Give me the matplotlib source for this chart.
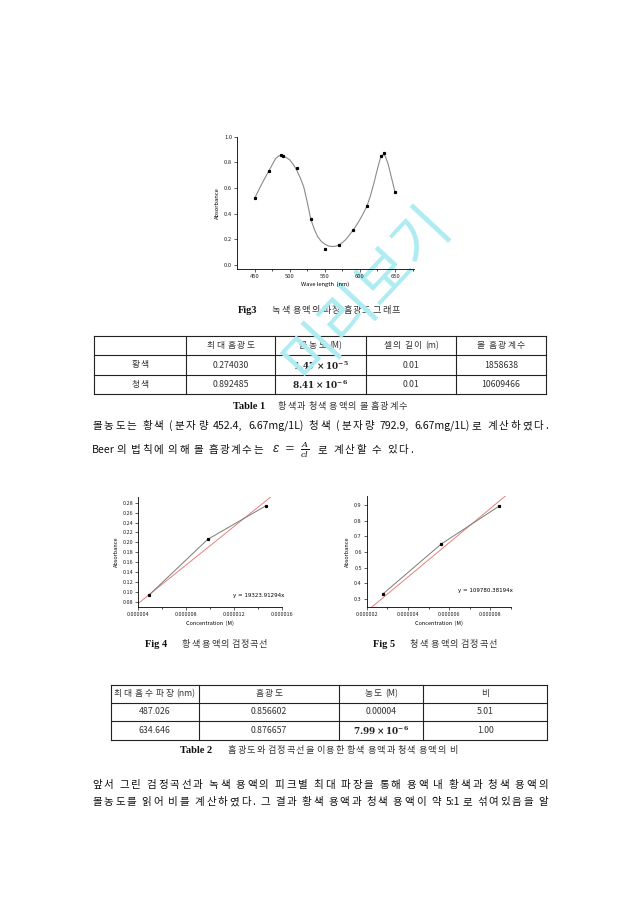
import matplotlib
matplotlib.use('Agg')
import matplotlib.pyplot as plt
import numpy as np

plt.rcParams['font.family'] = ['Noto Sans CJK KR', 'DejaVu Sans']
plt.rcParams['mathtext.fontset'] = 'dejavuserif'

# ---------------- data ----------------
# Fig3: spectrum of green solution
wave_nm = [450, 470, 487.026, 490, 510, 530, 550, 570, 590, 610, 630, 634.646, 650]
wave_abs = [0.52, 0.73, 0.856602, 0.85, 0.76, 0.357, 0.122, 0.154, 0.27, 0.46, 0.85, 0.876657, 0.567]
# smooth curve
curve_nm = [450, 455, 460, 465, 470, 475, 480, 485, 490, 495, 500, 505, 510, 515, 520, 525,
            530, 535, 540, 545, 550, 555, 560, 565, 570, 575, 580, 585, 590, 595, 600, 605,
            610, 615, 620, 625, 630, 633, 636, 640, 645, 650]
curve_abs = [0.52, 0.575, 0.63, 0.68, 0.73, 0.78, 0.83, 0.853, 0.85, 0.838, 0.82, 0.785, 0.74, 0.68,
             0.61, 0.49, 0.36, 0.28, 0.22, 0.185, 0.164, 0.15, 0.145, 0.147, 0.155, 0.175, 0.20,
             0.235, 0.27, 0.31, 0.355, 0.405, 0.46, 0.54, 0.64, 0.75, 0.85, 0.86, 0.85, 0.79, 0.68, 0.567]
fig3_xticks = [450, 500, 550, 600, 650]
fig3_yticks = [0.0, 0.2, 0.4, 0.6, 0.8, 1.0]

# Fig4: yellow calibration
y_conc = [4.9e-6, 9.8e-6, 1.47e-5]
y_abs = [0.094, 0.206, 0.274]
y_slope = 19323.91294
fig4_xticks = [4e-6, 8e-6, 1.2e-5, 1.6e-5]
fig4_xlabels = ['0.000004', '0.000008', '0.000012', '0.000016']
fig4_yticks = [0.08, 0.10, 0.12, 0.14, 0.16, 0.18, 0.20, 0.22, 0.24, 0.26, 0.28]

# Fig5: blue calibration
b_conc = [2.8e-6, 5.61e-6, 8.41e-6]
b_abs = [0.332, 0.65, 0.892]
b_slope = 109780.38194
fig5_xticks = [2e-6, 4e-6, 6e-6, 8e-6]
fig5_xlabels = ['0.000002', '0.000004', '0.000006', '0.000008']
fig5_yticks = [0.3, 0.4, 0.5, 0.6, 0.7, 0.8, 0.9]

# Tables
t1_header = ['', '최대 흡광도', '몰농도 (M)', '셀의 길이 (m)', '몰 흡광계수']
t1_rows = [['황색', '0.274030', r'$\mathbf{1.47\times10^{-5}}$', '0.01', '1858638'],
           ['청색', '0.892485', r'$\mathbf{8.41\times10^{-6}}$', '0.01', '10609466']]
t2_header = ['최대 흡수 파장 (nm)', '흡광도', '농도 (M)', '비']
t2_rows = [['487.026', '0.856602', '0.00004', '5.01'],
           ['634.646', '0.876657', r'$\mathbf{7.99\times10^{-6}}$', '1.00']]

# ---------------- figure ----------------
W, H = 640, 905
fig = plt.figure(figsize=(W / 100, H / 100), dpi=100)
fig.patch.set_facecolor('white')
page = fig.add_axes([0, 0, 1, 1])
page.set_xlim(0, W)
page.set_ylim(H, 0)
page.axis('off')
renderer = fig.canvas.get_renderer()


def px_axes(x0, x1, y0, y1):
    return fig.add_axes([x0 / W, 1 - y1 / H, (x1 - x0) / W, (y1 - y0) / H])


def style_axes(ax, fs=4.2):
    for s in ['top', 'right']:
        ax.spines[s].set_visible(False)
    for s in ['left', 'bottom']:
        ax.spines[s].set_linewidth(0.6)
    ax.tick_params(direction='out', length=2, width=0.5, labelsize=fs, pad=1.5, colors='#222222')
    ax.tick_params(which='minor', direction='out', length=1.5, width=0.5)
    ax.patch.set_alpha(0)


def is_hangul(ch):
    return '\uac00' <= ch <= '\ud7a3'


def tokenize(text):
    toks = []
    cur = ''
    for ch in text:
        if ch == ' ':
            if cur:
                toks.append(cur)
                cur = ''
            toks.append(' ')
        elif is_hangul(ch):
            if cur:
                toks.append(cur)
                cur = ''
            toks.append(ch)
        else:
            cur += ch
    if cur:
        toks.append(cur)
    return toks


def make_tokens(text, y, **kw):
    toks = tokenize(text)
    items = []
    for t in toks:
        if t == ' ':
            items.append((None, 0.0))
        else:
            o = page.text(0, y, t, ha='left', va='baseline', **kw)
            items.append((o, o.get_window_extent(renderer=renderer).width))
    return items


def place(items, x0, gap, space_units):
    x = x0
    prev = None
    for o, w in items:
        if o is None:
            x += gap * space_units
            prev = None
            continue
        if prev is not None:
            x += gap
        o.set_x(x)
        x += w
        prev = o


def count(items):
    n_obj = sum(1 for o, _ in items if o is not None)
    n_sp = sum(1 for o, _ in items if o is None)
    adj = 0
    for i in range(1, len(items)):
        if items[i][0] is not None and items[i - 1][0] is not None:
            adj += 1
    return n_obj, n_sp, adj


def spread(text, x0, x1, y, space_units=3.0, **kw):
    items = make_tokens(text, y, **kw)
    n_obj, n_sp, adj = count(items)
    total = sum(w for _, w in items)
    gap = (x1 - x0 - total) / max(adj + space_units * n_sp, 1)
    place(items, x0, gap, space_units)


def spaced_center(text, xc, y, gap=1.5, space_units=3.0, **kw):
    items = make_tokens(text, y, **kw)
    n_obj, n_sp, adj = count(items)
    total = sum(w for _, w in items) + gap * (adj + space_units * n_sp)
    place(items, xc - total / 2, gap, space_units)


# ---- Fig3 ----
ax3 = px_axes(237, 414, 136.7, 269)
ax3.plot(curve_nm, curve_abs, color='#8a8a8a', lw=0.8)
ax3.plot(wave_nm, wave_abs, ls='none', marker='s', ms=1.3, color='black')
ax3.set_xlim(425, 677)
ax3.set_ylim(-0.03, 1.0)
ax3.set_xticks(fig3_xticks)
ax3.set_xticks([475, 525, 575, 625, 675], minor=True)
ax3.set_yticks(fig3_yticks)
ax3.set_yticklabels([f'{v:.1f}' for v in fig3_yticks])
style_axes(ax3)
ax3.set_xlabel('Wave length  (nm)', fontsize=4.2, labelpad=2)
ax3.set_ylabel('Absorbance', fontsize=4.2, labelpad=3)

# ---- Fig4 ----
ax4 = px_axes(138.3, 281.7, 496.7, 606.7)
xl = np.array([4e-6, 1.6e-5])
ax4.plot(xl, y_slope * xl, color='#e8807a', lw=0.7)
ax4.plot(y_conc, y_abs, color='#7a7a7a', lw=0.7, marker='s', ms=1.3, mfc='black', mec='black')
ax4.set_xlim(4e-6, 1.6e-5)
ax4.set_ylim(0.0706, 0.292)
ax4.set_xticks(fig4_xticks)
ax4.set_xticklabels(fig4_xlabels)
ax4.set_xticks([6e-6, 1e-5, 1.4e-5], minor=True)
ax4.set_yticks(fig4_yticks)
ax4.set_yticklabels([f'{v:.2f}' for v in fig4_yticks])
style_axes(ax4, 4.0)
ax4.set_xlabel('Concentration  (M)', fontsize=4.0, labelpad=3)
ax4.set_ylabel('Absorbance', fontsize=4.0, labelpad=3)
ax4.text(0.66, 0.10, 'y = 19323.91294x', transform=ax4.transAxes, fontsize=4.0,
         family='DejaVu Sans', va='center')

# ---- Fig5 ----
ax5 = px_axes(366.7, 511, 496, 606.7)
xl5 = np.array([2e-6, 9e-6])
ax5.plot(xl5, b_slope * xl5, color='#e8807a', lw=0.7)
ax5.plot(b_conc, b_abs, color='#7a7a7a', lw=0.7, marker='s', ms=1.3, mfc='black', mec='black')
ax5.set_xlim(2e-6, 9e-6)
ax5.set_ylim(0.249, 0.958)
ax5.set_xticks(fig5_xticks)
ax5.set_xticklabels(fig5_xlabels)
ax5.set_xticks([3e-6, 5e-6, 7e-6, 9e-6], minor=True)
ax5.set_yticks(fig5_yticks)
ax5.set_yticklabels([f'{v:.1f}' for v in fig5_yticks])
style_axes(ax5, 4.0)
ax5.set_xlabel('Concentration  (M)', fontsize=4.0, labelpad=3)
ax5.set_ylabel('Absorbance', fontsize=4.0, labelpad=3)
ax5.text(0.63, 0.15, 'y = 109780.38194x', transform=ax5.transAxes, fontsize=4.0,
         family='DejaVu Sans', va='center')

# ---- captions ----
cap_kw = dict(fontsize=6.6, color='#333333')
serif_b = dict(family='Liberation Serif', weight='bold', fontsize=7.5, color='#111111')
page.text(238, 313, 'Fig3', ha='left', va='baseline', **serif_b)
spread('녹색 용액의 파장 흡광도 그래프', 272, 400, 313, **cap_kw)
page.text(233, 409, 'Table 1', ha='left', va='baseline', **serif_b)
spread('황색과 청색 용액의 몰 흡광계수', 278, 407, 409, **cap_kw)
page.text(145, 647, 'Fig 4', ha='left', va='baseline', **serif_b)
spread('황색 용액의 검정곡선', 182, 267, 647, **cap_kw)
page.text(373, 647, 'Fig 5', ha='left', va='baseline', **serif_b)
spread('청색 용액의 검정곡선', 410, 497, 647, **cap_kw)
page.text(180, 753, 'Table 2', ha='left', va='baseline', **serif_b)
spread('흡광도와 검정곡선을 이용한 황색 용액과 청색 용액의 비', 228, 457, 753, **cap_kw)


# ---- tables ----
def draw_table(xs, ys, header, rows, fs=6.3):
    lw = 0.8
    for y in ys:
        page.plot([xs[0], xs[-1]], [y, y], color='#222222', lw=lw)
    for x in xs:
        page.plot([x, x], [ys[0], ys[-1]], color='#222222', lw=lw)
    allrows = [header] + rows
    for r, row in enumerate(allrows):
        yc = (ys[r] + ys[r + 1]) / 2
        for c, txt in enumerate(row):
            if not txt:
                continue
            xc = (xs[c] + xs[c + 1]) / 2
            if '$' in txt:
                page.text(xc, yc + 0.5, txt, ha='center', va='center', fontsize=6.4, color='#222222')
            elif any(is_hangul(ch) for ch in txt):
                spaced_center(txt, xc, yc + 2.4, gap=1.6, space_units=2.0, fontsize=fs, color='#333333')
            else:
                page.text(xc, yc, txt, ha='center', va='center', fontsize=fs, color='#333333')


draw_table([94, 186, 275, 366, 456, 546], [336, 355, 375, 394], t1_header, t1_rows)
draw_table([110.7, 198.7, 339, 423, 547.3], [685, 702.7, 720.7, 740], t2_header, t2_rows)

# ---- body text ----
body = dict(fontsize=7.6, color='#111111')
spread('몰농도는 황색 (분자량 452.4, 6.67mg/1L) 청색 (분자량 792.9, 6.67mg/1L)로 계산하였다.',
       92, 548, 429, space_units=3.0, **body)
spread('Beer의 법칙에 의해 몰 흡광계수는', 92, 263, 453, space_units=3.0, **body)
page.text(272, 453, r'$\varepsilon\ =\ \frac{A}{cl}$', ha='left', va='baseline', fontsize=8.5, color='#111111')
spread('로 계산할 수 있다.', 318, 413, 453, space_units=3.0, **body)
spread('앞서 그린 검정곡선과 녹색 용액의 피크별 최대 파장을 통해 용액 내 황색과 청색 용액의',
       92, 548, 788, space_units=3.0, **body)
spread('몰농도를 읽어 비를 계산하였다. 그 결과 황색 용액과 청색 용액이 약 5:1로 섞여있음을 알',
       92, 548, 805, space_units=3.0, **body)

# ---- watermark ----
page.text(367, 293, '미리보기', ha='center', va='center', rotation=47, fontsize=42,
          color='#aeecf2', weight='normal', zorder=10)

fig.savefig('out.png', dpi=100, facecolor='white')
